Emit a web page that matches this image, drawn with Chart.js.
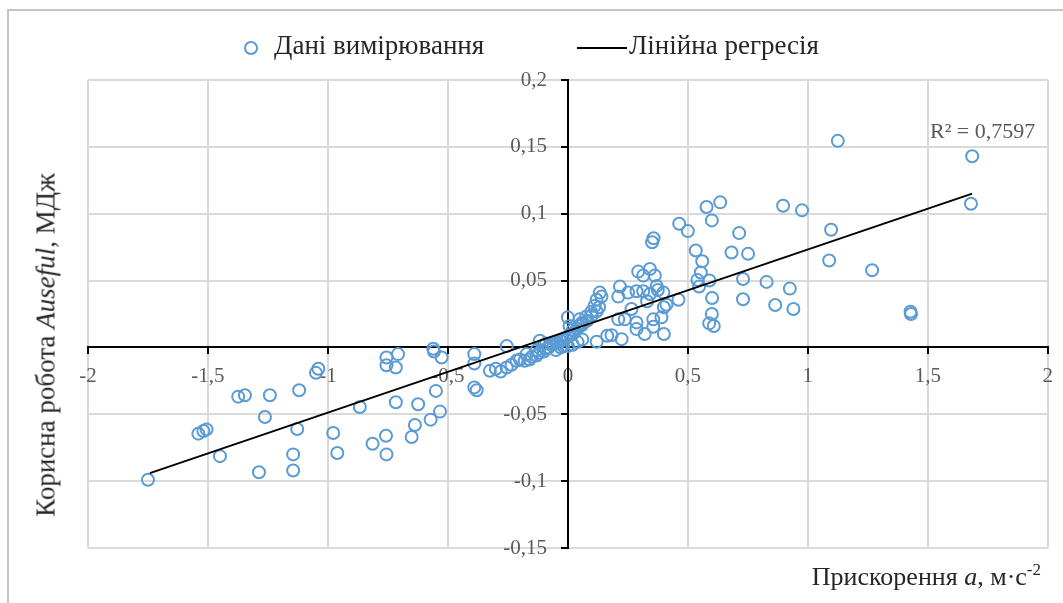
<!DOCTYPE html>
<html>
<head>
<meta charset="utf-8">
<script src="https://cdn.jsdelivr.net/npm/chart.js@4.4.0/dist/chart.umd.min.js"></script>
<style>
  body { margin: 0; background: #fff; }
  #wrap { position: relative; width: 1063px; height: 603px; overflow: hidden; }
  #frame { position: absolute; left: 7px; top: 9px; width: 1070px; height: 610px; border-left: 2px solid #c4c4c4; border-top: 2px solid #c4c4c4; }
  canvas { position: absolute; left: 0; top: 0; }
  .txt { position: absolute; font-family: "Liberation Serif", "DejaVu Serif", serif; white-space: nowrap; }
  #legend { left: 0; top: 28px; width: 1063px; text-align: center; font-size: 27px; color: #262626; }
  #legend span.item { display: inline-block; vertical-align: middle; }
  .dot { display: inline-block; width: 10px; height: 10px; border: 2px solid #5b9bd5; border-radius: 50%; margin-right: 16px; vertical-align: middle; }
  .ln { display: inline-block; width: 50px; height: 2px; background: #000; margin-right: 2px; vertical-align: middle; }
  #ytitle { left: 46px; top: 345px; font-size: 27px; color: #262626; transform: translate(-50%, -50%) rotate(-90deg); }
  #xtitle { right: 22px; top: 560px; font-size: 26px; color: #262626; }
  #r2 { left: 930px; top: 118px; font-size: 22px; color: #595959; }
</style>
</head>
<body>
<div id="wrap">
  <div id="frame"></div>
  <canvas id="myChart" width="1063" height="603"></canvas>
  <div id="legend" class="txt">
    <span class="item"><span class="dot"></span>Дані вимірювання</span>
    <span class="item" style="margin-left:86px"><span class="ln"></span>Лінійна регресія</span>
  </div>
  <div id="ytitle" class="txt">Корисна робота <i>Auseful</i>, МДж</div>
  <div id="xtitle" class="txt">Прискорення <i>a</i>, м·с<sup style="font-size:17px">-2</sup></div>
  <div id="r2" class="txt">R² = 0,7597</div>
</div>
<script>
// acceleration, m/s^2 (x) and useful work, MJ (y)
var accel = [
  -1.75, -1.54, -1.519, -1.506, -1.45, -1.374, -1.346, -1.2875, -1.2625, -1.242,
  -1.145, -1.145, -1.128, -1.12, -1.05, -1.04, -0.978, -0.961, -0.867, -0.814,
  -0.758, -0.756, -0.756, -0.756, -0.717, -0.717, -0.708, -0.651, -0.6375, -0.624,
  -0.572, -0.561, -0.558, -0.55, -0.533, -0.526,
  -0.39, -0.39, -0.39, -0.38, -0.325, -0.30, -0.28, -0.255, -0.255, -0.235,
  -0.214, -0.2, -0.18, -0.172, -0.16, -0.15, -0.13, -0.13, -0.12, -0.117,
  -0.1, -0.09, -0.09, -0.08, -0.07, -0.06, -0.05, -0.05, -0.04, -0.03,
  -0.03, -0.02, -0.02, -0.01, 0.0, 0.0, 0.01, 0.02, 0.02, 0.03,
  0.04, 0.04, 0.05, 0.06, 0.06, 0.08, 0.1, 0.12, 0.13,
  0.0, 0.007, 0.02, 0.049, 0.056, 0.076, 0.097, 0.111, 0.12, 0.133, 0.14,
  0.12, 0.164, 0.182, 0.224, 0.21, 0.237, 0.265, 0.286, 0.286, 0.32,
  0.33, 0.356, 0.356, 0.39, 0.40, 0.40, 0.411, 0.217, 0.21, 0.251,
  0.286, 0.314, 0.342, 0.398, 0.37, 0.375, 0.293, 0.342, 0.314, 0.3625,
  0.351, 0.357, 0.461, 0.464, 0.50, 0.533, 0.54, 0.547, 0.554, 0.56,
  0.578, 0.59, 0.6, 0.601, 0.6, 0.589, 0.608, 0.635, 0.682, 0.714,
  0.73, 0.73, 0.751, 0.828, 0.864, 0.897, 0.925, 0.94, 0.976, 1.089,
  1.097, 1.125, 1.268, 1.428, 1.43, 1.68, 1.685
];
var work = [
  -0.099, -0.0645, -0.0625, -0.0613, -0.0813, -0.0368, -0.0358, -0.0933, -0.052, -0.0358,
  -0.080, -0.092, -0.061, -0.032, -0.019, -0.016, -0.064, -0.079, -0.0445, -0.072,
  -0.066, -0.0075, -0.0133, -0.080, -0.041, -0.015, -0.005, -0.067, -0.058, -0.0425,
  -0.054, -0.001, -0.003, -0.0325, -0.048, -0.0075,
  -0.005, -0.012, -0.030, -0.032, -0.0175, -0.016, -0.018, 0.001, -0.015, -0.013,
  -0.010, -0.009, -0.010, -0.005, -0.009, -0.007, -0.002, -0.006, -0.004, 0.005,
  -0.003, -0.001, 0.003, 0.0, 0.002, 0.003, 0.004, -0.002, 0.003, 0.005,
  0.0, 0.006, 0.001, 0.007, 0.008, 0.001, 0.009, 0.01, 0.002, 0.012,
  0.014, 0.004, 0.016, 0.017, 0.006, 0.02, 0.024, 0.027, 0.03,
  0.0225, 0.016, 0.013, 0.021, 0.018, 0.023, 0.0265, 0.031, 0.0357, 0.041, 0.038,
  0.0042, 0.0087, 0.0092, 0.0062, 0.021, 0.021, 0.0287, 0.0187, 0.0137, 0.010,
  0.0345, 0.021, 0.0155, 0.0225, 0.010, 0.030, 0.032, 0.0455, 0.038, 0.041,
  0.042, 0.042, 0.040, 0.041, 0.046, 0.043, 0.0567, 0.0587, 0.0537, 0.0537,
  0.0787, 0.0817, 0.0357, 0.0925, 0.087, 0.0725, 0.0505, 0.0455, 0.056, 0.0645,
  0.105, 0.050, 0.095, 0.037, 0.025, 0.018, 0.016, 0.1085, 0.071, 0.0855,
  0.0512, 0.036, 0.070, 0.049, 0.0317, 0.106, 0.044, 0.0287, 0.1025, 0.065,
  0.088, 0.1545, 0.0577, 0.0267, 0.025, 0.1075, 0.143
];
// linear regression line end points
var fitX = [-1.742, 1.685];
var fitY = [-0.094, 0.115];

var xTicks = [-2, -1.5, -1, -0.5, 0, 0.5, 1, 1.5, 2];

function toPoints(xs, ys) {
    var pts = [];
    for (var i = 0; i < xs.length; i++) {
        pts.push({ x: xs[i], y: ys[i] });
    }
    return pts;
}

function comma(v) {
    var s = String(Math.round(v * 1000) / 1000);
    return s.replace('.', ',');
}

var tickFont = { family: 'Liberation Serif', size: 21 };

new Chart(document.querySelector('#myChart'), {
    type: 'scatter',
    data: {
        datasets: [
            {
                label: 'Дані вимірювання',
                data: toPoints(accel, work),
                pointStyle: 'circle',
                pointRadius: 6,
                pointBorderWidth: 2,
                borderColor: '#5b9bd5',
                backgroundColor: 'rgba(0,0,0,0)',
                order: 2
            },
            {
                label: 'Лінійна регресія',
                type: 'line',
                data: toPoints(fitX, fitY),
                borderColor: '#000000',
                borderWidth: 2,
                pointRadius: 0,
                fill: false,
                order: 1
            }
        ]
    },
    options: {
        responsive: false,
        animation: false,
        layout: { padding: { left: 88, right: 15, top: 80, bottom: 55 } },
        plugins: {
            legend: { display: false },
            tooltip: { enabled: false }
        },
        scales: {
            x: {
                type: 'linear',
                position: { y: 0 },
                min: -2,
                max: 2,
                afterBuildTicks: function (scale) {
                    scale.ticks = xTicks.map(function (v) { return { value: v }; });
                },
                grid: { color: '#d9d9d9', lineWidth: 2, tickColor: '#000', tickLength: 6 },
                border: { color: '#000', width: 2 },
                ticks: {
                    color: '#595959',
                    font: tickFont,
                    padding: 10,
                    maxRotation: 0,
                    autoSkip: false,
                    callback: function (v) { return comma(v); }
                }
            },
            y: {
                type: 'linear',
                position: { x: 0 },
                min: -0.15,
                max: 0.2,
                grid: { color: '#d9d9d9', lineWidth: 2, tickColor: '#000', tickLength: 6 },
                border: { color: '#000', width: 2 },
                ticks: {
                    stepSize: 0.05,
                    color: '#595959',
                    font: tickFont,
                    autoSkip: false,
                    // labels sit right-aligned on the axis, the spaces push them off it
                    callback: function (v) { return comma(v) + '\u2002\u2002'; }
                }
            }
        }
    }
});
</script>
</body>
</html>
